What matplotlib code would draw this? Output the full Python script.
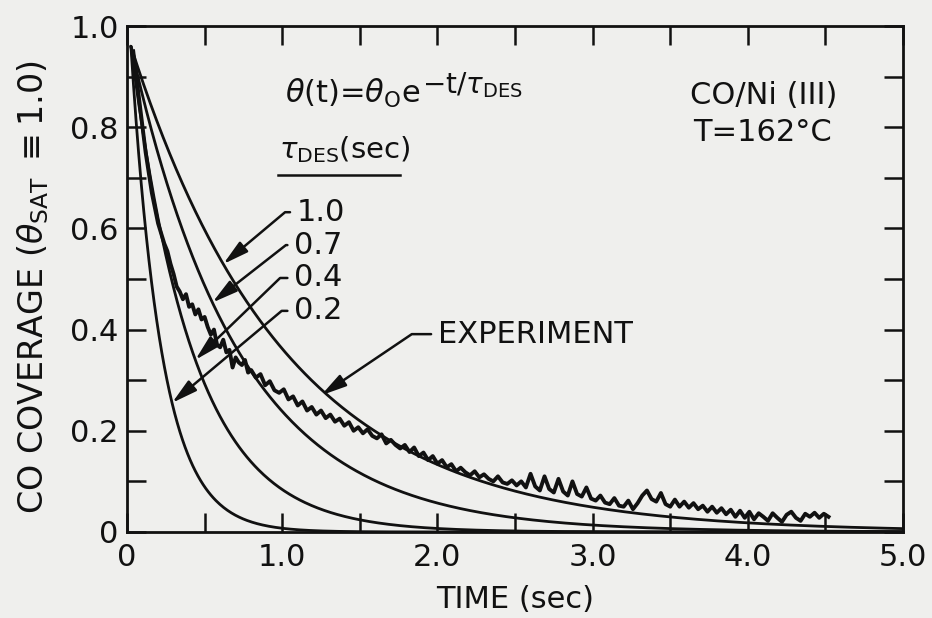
import numpy as np
import matplotlib
matplotlib.use("Agg")
import matplotlib.pyplot as plt

# ---------------- data ----------------
tau_values = [1.0, 0.7, 0.4, 0.2]          # tau_DES (sec)
tau_labels = ["1.0", "0.7", "0.4", "0.2"]
theta0 = 0.96                               # initial coverage of model curves
t_start = 0.025                             # start time of model curves

exp_t = [0.04, 0.06, 0.08, 0.10, 0.12, 0.14, 0.16, 0.18, 0.20, 0.22, 0.24, 0.26,
         0.28, 0.30, 0.32, 0.34, 0.36, 0.38, 0.40, 0.42, 0.44, 0.46, 0.48, 0.50,
         0.52, 0.54, 0.56, 0.58, 0.60, 0.62, 0.64, 0.66, 0.68, 0.70, 0.72, 0.74,
         0.76, 0.78, 0.80, 0.83, 0.86, 0.89, 0.92, 0.95, 0.98, 1.01, 1.04, 1.07,
         1.10, 1.13, 1.16, 1.19, 1.22, 1.25, 1.28, 1.31, 1.34, 1.37, 1.40, 1.43,
         1.46, 1.49, 1.52, 1.55, 1.58, 1.61, 1.64, 1.67, 1.70, 1.73, 1.76, 1.79,
         1.82, 1.85, 1.88, 1.91, 1.94, 1.97, 2.00, 2.03, 2.06, 2.09, 2.12, 2.15,
         2.18, 2.21, 2.24, 2.27, 2.30, 2.33, 2.36, 2.39, 2.42, 2.45, 2.48, 2.51,
         2.54, 2.57, 2.60, 2.63, 2.66, 2.69, 2.72, 2.75, 2.78, 2.81, 2.84, 2.87,
         2.90, 2.93, 2.96, 2.99, 3.02, 3.05, 3.08, 3.11, 3.14, 3.17, 3.20, 3.23,
         3.26, 3.29, 3.32, 3.35, 3.38, 3.41, 3.44, 3.47, 3.50, 3.53, 3.56, 3.59,
         3.62, 3.65, 3.68, 3.71, 3.74, 3.77, 3.80, 3.83, 3.86, 3.89, 3.92, 3.95,
         3.98, 4.01, 4.04, 4.07, 4.10, 4.13, 4.16, 4.19, 4.22, 4.25, 4.28, 4.31,
         4.34, 4.37, 4.40, 4.43, 4.46, 4.49, 4.52]
exp_theta = [0.95, 0.90, 0.85, 0.80, 0.75, 0.71, 0.67, 0.64, 0.61, 0.59, 0.57, 0.555,
             0.53, 0.51, 0.485, 0.475, 0.46, 0.47, 0.445, 0.45, 0.43, 0.44, 0.42, 0.425,
             0.405, 0.39, 0.40, 0.37, 0.365, 0.38, 0.355, 0.36, 0.325, 0.345, 0.335, 0.33,
             0.34, 0.315, 0.32, 0.305, 0.312, 0.29, 0.298, 0.28, 0.275, 0.282, 0.262, 0.268,
             0.25, 0.258, 0.24, 0.247, 0.232, 0.24, 0.225, 0.232, 0.218, 0.224, 0.21, 0.217,
             0.20, 0.207, 0.195, 0.203, 0.19, 0.185, 0.193, 0.175, 0.182, 0.172, 0.165, 0.172,
             0.158, 0.167, 0.15, 0.157, 0.142, 0.15, 0.135, 0.142, 0.128, 0.134, 0.12, 0.127,
             0.118, 0.112, 0.12, 0.108, 0.114, 0.105, 0.10, 0.11, 0.098, 0.095, 0.102, 0.092,
             0.10, 0.088, 0.115, 0.09, 0.082, 0.11, 0.085, 0.078, 0.105, 0.08, 0.072, 0.10,
             0.075, 0.07, 0.088, 0.066, 0.062, 0.072, 0.058, 0.055, 0.067, 0.052, 0.05, 0.062,
             0.045, 0.057, 0.072, 0.082, 0.065, 0.06, 0.077, 0.055, 0.05, 0.064, 0.05, 0.06,
             0.048, 0.057, 0.045, 0.052, 0.04, 0.05, 0.038, 0.047, 0.035, 0.044, 0.03, 0.042,
             0.028, 0.04, 0.025, 0.037, 0.03, 0.022, 0.037, 0.028, 0.02, 0.034, 0.04, 0.028,
             0.022, 0.036, 0.03, 0.038, 0.028, 0.036, 0.03]

x_ticks = [0, 1, 2, 3, 4, 5]
x_ticklabels = ["0", "1.0", "2.0", "3.0", "4.0", "5.0"]
y_ticks = [0, 0.2, 0.4, 0.6, 0.8, 1.0]
y_ticklabels = ["0", "0.2", "0.4", "0.6", "0.8", "1.0"]

# annotation settings (label position in data coords, target time on curve)
label_t = [1.095, 1.078, 1.078, 1.078]
label_theta = [0.632, 0.567, 0.502, 0.437]
target_t = [0.62, 0.55, 0.44, 0.29]
leader_angle = [40, 38, 44, 40]

# ---------------- figure ----------------
plt.rcParams["font.family"] = ["DejaVu Sans"]
plt.rcParams["mathtext.fontset"] = "dejavusans"
INK = "#111111"
BG = "#efefed"
FS = 22

fig = plt.figure(figsize=(9.32, 6.18), dpi=100, facecolor=BG)
ax = fig.add_axes([0.1363, 0.1392, 0.8326, 0.8187], facecolor=BG)

t_model = np.linspace(t_start, 5.0, 600)
for tau in tau_values:
    ax.plot(t_model, theta0 * np.exp(-(t_model - t_start) / tau),
            color=INK, lw=2.0, solid_capstyle="round")

ax.plot(exp_t, exp_theta, color=INK, lw=2.8, solid_joinstyle="round")

ax.set_xlim(0, 5.0)
ax.set_ylim(0, 1.0)
ax.set_xticks(x_ticks)
ax.set_xticklabels(x_ticklabels)
ax.set_xticks(np.arange(0.5, 5.0, 1.0), minor=True)
ax.set_yticks(y_ticks)
ax.set_yticklabels(y_ticklabels)
ax.set_yticks(np.arange(0.1, 1.0, 0.2), minor=True)
ax.tick_params(which="both", direction="in", length=14, width=1.8,
               top=True, right=True, colors=INK)
ax.tick_params(axis="x", which="major", labelsize=FS, pad=8)
ax.tick_params(axis="y", which="major", labelsize=FS, pad=6)
for s in ax.spines.values():
    s.set_linewidth(2.0)
    s.set_color(INK)

ax.set_xlabel("TIME (sec)", fontsize=FS, labelpad=9, color=INK)
fig.text(0.036, 0.536, r"CO COVERAGE ($\theta_{\mathrm{SAT}}$ $\equiv$1.0)",
         rotation=90, ha="center", va="center", fontsize=24, color=INK)

# formula and headings
main = ax.text(1.02, 0.866, r"$\theta$(t)=$\theta_{\mathrm{O}}$e",
               fontsize=FS, ha="left", va="center", color=INK)
ax.annotate(r"$-$t/$\tau_{\mathrm{DES}}$", xy=(1.0, 0.76), xycoords=main,
            xytext=(1, 0), textcoords="offset points",
            fontsize=20, ha="left", va="center", color=INK)
ax.text(0.98, 0.755, r"$\tau_{\mathrm{DES}}$(sec)", fontsize=FS - 1, ha="left",
        va="center", color=INK)
ax.plot([0.97, 1.76], [0.706, 0.706], color=INK, lw=1.8)
ax.text(3.63, 0.862, "CO/Ni (III)", fontsize=FS, ha="left", va="center", color=INK)
ax.text(3.65, 0.79, "T=162°C", fontsize=FS, ha="left", va="center", color=INK)

# leader-line labels for model curves
for tau, lab, lt, lth, tt, ang in zip(tau_values, tau_labels, label_t,
                                      label_theta, target_t, leader_angle):
    ty = theta0 * np.exp(-(tt - t_start) / tau)
    ax.annotate(lab, xy=(tt, ty), xytext=(lt, lth), fontsize=FS,
                ha="left", va="center", color=INK,
                arrowprops=dict(arrowstyle="-|>,head_length=0.7,head_width=0.18",
                                connectionstyle=f"angle,angleA=0,angleB={ang},rad=0",
                                color=INK, lw=1.8, shrinkA=3, shrinkB=0))

# experiment label
i_exp = exp_t.index(1.25)
ax.annotate("EXPERIMENT", xy=(exp_t[i_exp], exp_theta[i_exp] + 0.03),
            xytext=(2.004, 0.391), fontsize=FS, ha="left", va="center", color=INK,
            arrowprops=dict(arrowstyle="-|>,head_length=0.7,head_width=0.18",
                            connectionstyle="angle,angleA=0,angleB=34,rad=0",
                            color=INK, lw=1.8, shrinkA=3, shrinkB=0))

fig.savefig("out.png", dpi=100, facecolor=BG)
